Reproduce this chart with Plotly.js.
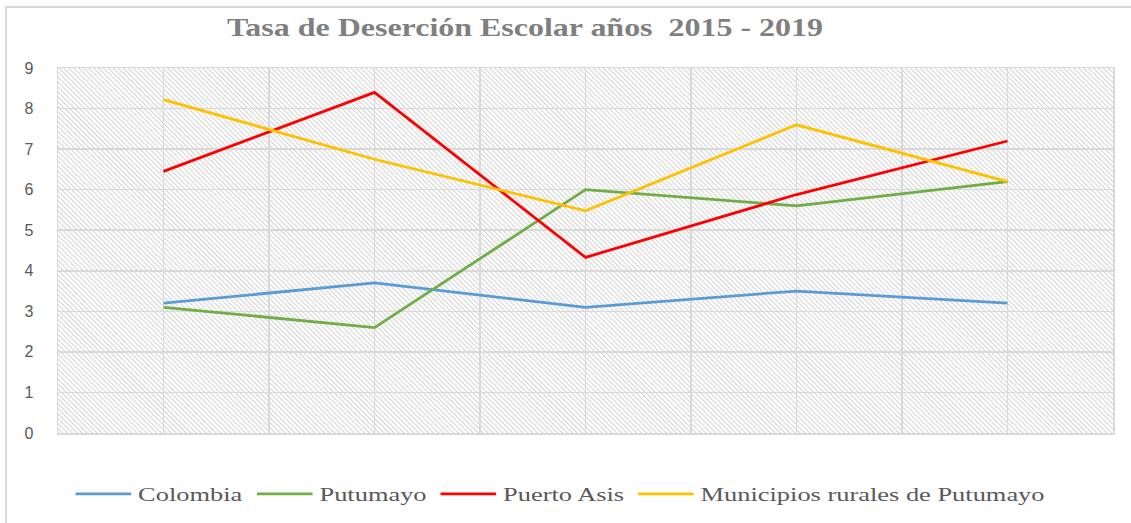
<!DOCTYPE html>
<html>
<head>
<meta charset="utf-8">
<script src="https://cdn.plot.ly/plotly-3.0.1.min.js"></script>
<style>
  html, body { margin: 0; padding: 0; background: #fff; }
  #wrap { position: relative; width: 1131px; height: 523px; overflow: hidden; }
  #chart { position: absolute; left: 0; top: 0; width: 1131px; height: 523px; }
  #frame { position: absolute; left: 5px; top: 6px; width: 1300px; height: 700px;
           border-top: 2px solid #d9d9d9; border-left: 2px solid #d9d9d9; pointer-events: none; }
</style>
</head>
<body>
<div id="wrap">
  <div id="chart"></div>
  <div id="frame"></div>
</div>
<script>
// ---- data ----
const years = [2015, 2016, 2017, 2018, 2019];
const colombia = [3.2, 3.7, 3.1, 3.5, 3.2];
const putumayo = [3.1, 2.6, 6.0, 5.6, 6.2];
const puertoAsis = [6.45, 8.4, 4.33, 5.88, 7.2];
const municipiosRurales = [8.22, 6.75, 5.48, 7.6, 6.2];
const seriesNames = ["Colombia", "Putumayo", "Puerto Asis", "Municipios rurales de Putumayo"];
const yTicks = [0, 1, 2, 3, 4, 5, 6, 7, 8, 9];

const colors = ["#5b9bd5", "#70ad47", "#ff0000", "#ffc000"];
const allSeries = [colombia, putumayo, puertoAsis, municipiosRurales];

const traces = allSeries.map((vals, i) => ({
  type: "scatter",
  mode: "lines",
  x: years,
  y: vals,
  name: seriesNames[i],
  line: { color: colors[i], width: 2.8 },
  hoverinfo: "x+y+name"
}));

// hatched background as an SVG image
const svg = '<svg xmlns="http://www.w3.org/2000/svg" width="1055" height="365" viewBox="0 0 1055 365" preserveAspectRatio="none">' +
  '<defs><pattern id="h" width="3.5" height="3.5" patternUnits="userSpaceOnUse" patternTransform="rotate(-45)">' +
  '<rect width="3.5" height="3.5" fill="#ffffff"/>' +
  '<line x1="0.6" y1="0" x2="0.6" y2="3.5" stroke="#d0d0d0" stroke-width="1"/></pattern></defs>' +
  '<rect width="1055" height="365" fill="url(#h)"/></svg>';
const hatch = "data:image/svg+xml;charset=utf-8," + encodeURIComponent(svg);

const layout = {
  width: 1131,
  height: 523,
  margin: { l: 58, r: 18, t: 68, b: 90 },
  paper_bgcolor: "rgba(0,0,0,0)",
  plot_bgcolor: "#ffffff",
  title: {
    text: "<b>Tasa de Deserción Escolar años  2015 - 2019</b>",
    font: { family: "Liberation Serif, Times New Roman, serif", size: 26, color: "#7f7f7f" },
    x: 525 / 1131, xref: "container", xanchor: "center",
    y: 1 - 27 / 523, yref: "container", yanchor: "middle"
  },
  xaxis: {
    range: [2014.5, 2019.5],
    tick0: 2014.5,
    dtick: 0.5,
    showticklabels: false,
    ticks: "",
    showgrid: true,
    gridcolor: "#d9d9d9",
    gridwidth: 1.5,
    zeroline: false,
    showline: true,
    mirror: true,
    linecolor: "#d9d9d9",
    linewidth: 1.5
  },
  yaxis: {
    range: [0, 9],
    tickvals: yTicks,
    ticktext: yTicks.map(String),
    ticks: "",
    ticklabelstandoff: 20,
    tickfont: { family: "Liberation Sans, Arial, sans-serif", size: 16, color: "#595959" },
    showgrid: true,
    gridcolor: "#d9d9d9",
    gridwidth: 1.5,
    zeroline: false,
    showline: true,
    mirror: true,
    linecolor: "#d9d9d9",
    linewidth: 1.5
  },
  images: [{
    source: hatch,
    xref: "paper", yref: "paper",
    x: 0, y: 1, sizex: 1, sizey: 1,
    xanchor: "left", yanchor: "top",
    sizing: "stretch",
    layer: "below"
  }],
  legend: {
    orientation: "h",
    x: 560 / 1131, xref: "container", xanchor: "center",
    y: 1 - 494 / 523, yref: "container", yanchor: "middle",
    font: { family: "Liberation Serif, Times New Roman, serif", size: 19, color: "#595959" },
    itemwidth: 40,
    bgcolor: "rgba(0,0,0,0)"
  },
  showlegend: true
};

// the reference's texts are horizontally stretched; widen them about their centres
function stretchX(el, s) {
  if (!el) return;
  const bb = el.getBBox();
  const existing = el.getAttribute("transform") || "";
  let tx = 0;
  const base = el.transform && el.transform.baseVal && el.transform.baseVal.consolidate();
  if (base) tx = base.matrix.e;
  const cx = tx + bb.x + bb.width / 2;
  el.setAttribute("transform", `translate(${cx},0) scale(${s},1) translate(${-cx},0) ${existing}`);
}

Plotly.newPlot("chart", traces, layout, { displayModeBar: false, staticPlot: true }).then(gd => {
  stretchX(gd.querySelector(".gtitle"), 1.23);
  stretchX(gd.querySelector(".legend .scrollbox"), 1.39);
});
</script>
</body>
</html>
